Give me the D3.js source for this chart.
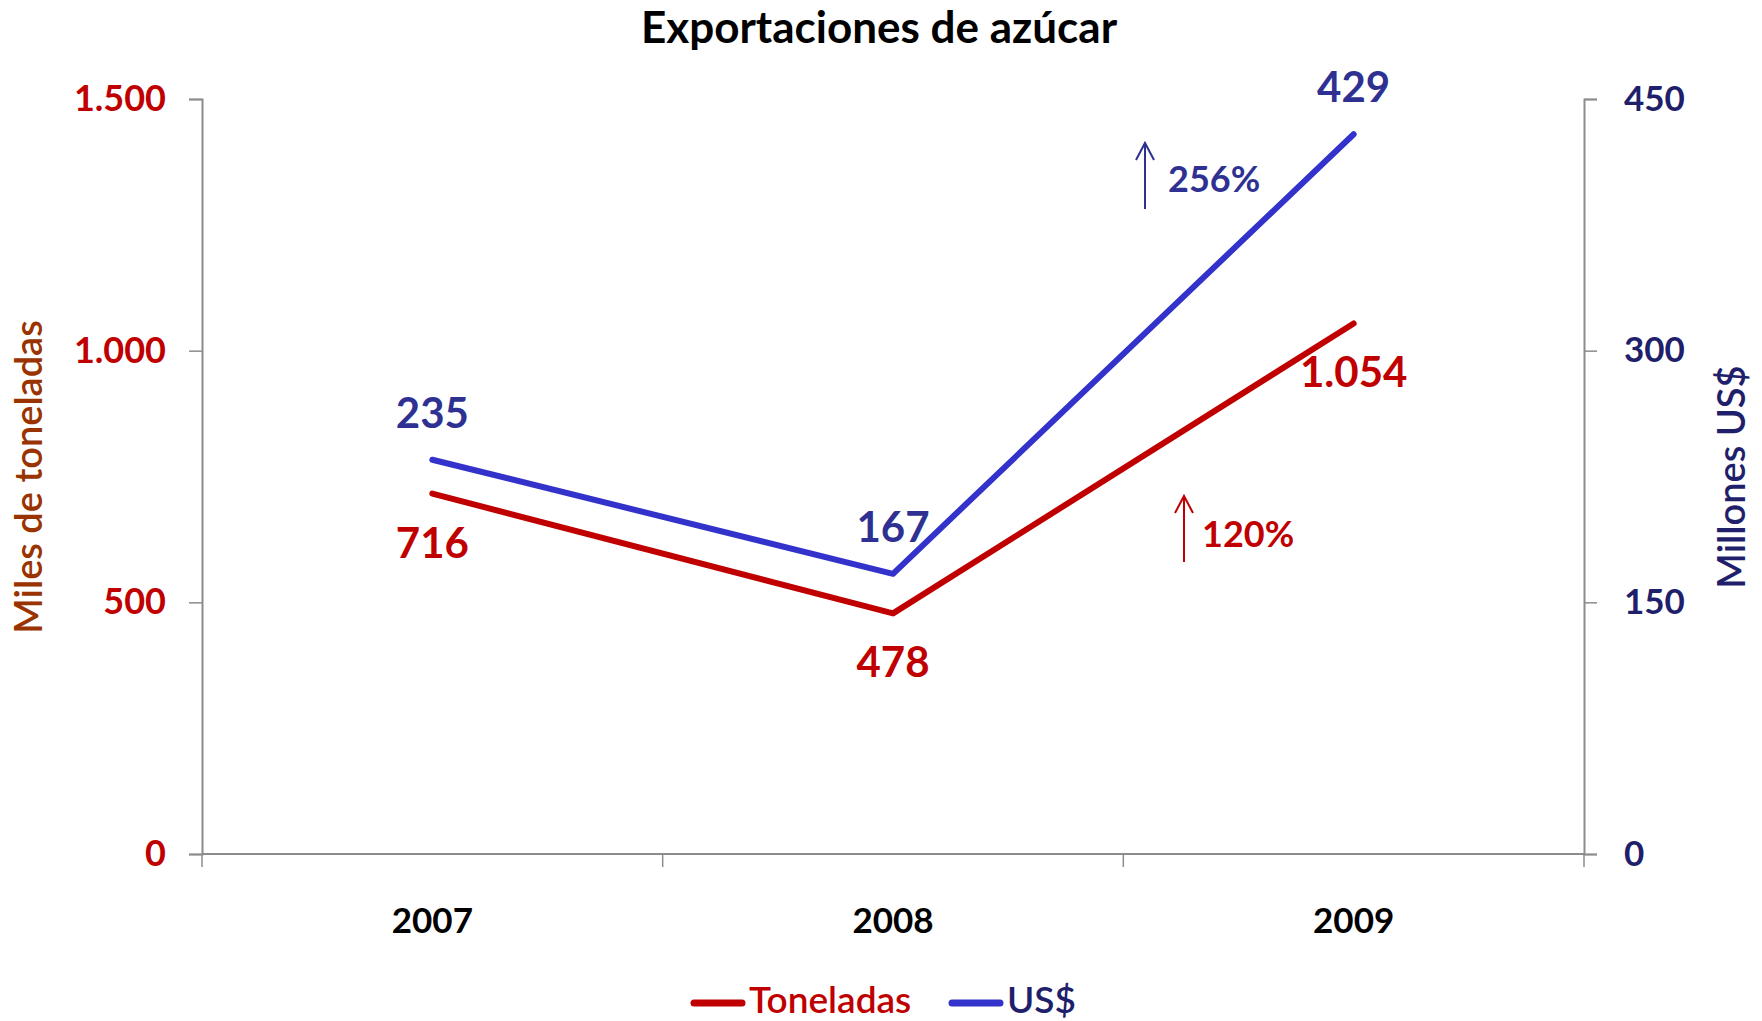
<!DOCTYPE html>
<html>
<head>
    <meta charset="utf-8">
    <title>Exportaciones de azúcar</title>
    <script src="https://d3js.org/d3.v7.min.js"></script>
    <style>
        body { margin: 0; background: #fff; }
        text { font-family: Lato, "Open Sans", sans-serif; font-weight: bold; }
    </style>
</head>
<body>
    <div id="chart"></div>
    <script>
        // data
        var years = ["2007", "2008", "2009"];
        var toneladas = [716, 478, 1054];   // miles de toneladas
        var dolares = [235, 167, 429];       // millones US$
        var leftTicks = [0, 500, 1000, 1500];
        var rightTicks = [0, 150, 300, 450];

        var red = "#C00000", blue = "#3333CC", navy = "#2E3192", darkNavy = "#1F1F6B";

        var W = 1762, H = 1021;
        var margin = {top: 99, right: 178, bottom: 167, left: 202},
            width = W - margin.left - margin.right,
            height = H - margin.top - margin.bottom;

        var svg = d3.select("#chart").append("svg")
            .attr("width", W).attr("height", H);

        svg.append("text")
            .attr("x", 879).attr("y", 43)
            .attr("text-anchor", "middle")
            .style("font-size", "44px")
            .attr("fill", "#000")
            .text("Exportaciones de azúcar");

        var g = svg.append("g")
            .attr("transform", "translate(" + margin.left + "," + margin.top + ")");

        var x = d3.scaleBand().domain(years).range([0, width]);
        var yL = d3.scaleLinear().domain([0, 1500]).range([height, 0]);
        var yR = d3.scaleLinear().domain([0, 450]).range([height, 0]);

        var fmt = function(d) { return d3.format(",")(d).replace(/,/g, "."); };

        // axes
        var axisColor = "#8c8c8c";
        var xAxis = g.append("g")
            .attr("transform", "translate(0," + height + ")")
            .call(d3.axisBottom(x).tickSize(0).tickPadding(54));
        xAxis.select(".domain").attr("stroke", axisColor).attr("stroke-width", 2).attr("d", "M0,0H" + width);
        xAxis.selectAll("text").style("font-size", "35px").attr("fill", "#000");
        // category boundary ticks
        g.selectAll(".xtick").data(years.concat(["end"]))
            .enter().append("line")
            .attr("x1", function(d, i) { return i * x.bandwidth(); })
            .attr("x2", function(d, i) { return i * x.bandwidth(); })
            .attr("y1", height).attr("y2", height + 13)
            .attr("stroke", axisColor).attr("stroke-width", 1.5);

        var leftAxis = g.append("g")
            .call(d3.axisLeft(yL).tickValues(leftTicks).tickFormat(fmt).tickSizeOuter(0).tickSize(13).tickPadding(36 - 13));
        leftAxis.select(".domain").attr("stroke", axisColor).attr("stroke-width", 2);
        leftAxis.selectAll("line").attr("stroke", axisColor).attr("stroke-width", 1.5);
        leftAxis.selectAll("text").style("font-size", "36px").attr("fill", red);

        var rightAxis = g.append("g")
            .attr("transform", "translate(" + width + ",0)")
            .call(d3.axisRight(yR).tickValues(rightTicks).tickSizeOuter(0).tickSize(13).tickPadding(40 - 13));
        rightAxis.select(".domain").attr("stroke", axisColor).attr("stroke-width", 2);
        rightAxis.selectAll("line").attr("stroke", axisColor).attr("stroke-width", 1.5);
        rightAxis.selectAll("text").style("font-size", "35px").attr("fill", darkNavy);

        // axis titles
        svg.append("text")
            .attr("transform", "translate(42,477) rotate(-90)")
            .attr("text-anchor", "middle")
            .style("font-size", "38px").style("font-weight", "600")
            .attr("fill", "#993300")
            .text("Miles de toneladas");
        svg.append("text")
            .attr("transform", "translate(1745,477) rotate(-90)")
            .attr("text-anchor", "middle")
            .style("font-size", "38px").style("font-weight", "600")
            .attr("fill", darkNavy)
            .text("Millones US$");

        var cx = function(i) { return x(years[i]) + x.bandwidth() / 2; };

        var lineL = d3.line().x(function(d, i) { return cx(i); }).y(function(d) { return yL(d); });
        var lineR = d3.line().x(function(d, i) { return cx(i); }).y(function(d) { return yR(d); });

        g.append("path").datum(toneladas).attr("d", lineL)
            .attr("fill", "none").attr("stroke", red).attr("stroke-width", 6)
            .attr("stroke-linecap", "round").attr("stroke-linejoin", "round");
        g.append("path").datum(dolares).attr("d", lineR)
            .attr("fill", "none").attr("stroke", blue).attr("stroke-width", 6)
            .attr("stroke-linecap", "round").attr("stroke-linejoin", "round");

        // data labels
        g.selectAll(".lblR").data(toneladas).enter().append("text")
            .attr("x", function(d, i) { return cx(i); })
            .attr("y", function(d) { return yL(d) + 64; })
            .attr("text-anchor", "middle")
            .style("font-size", "42px").attr("fill", red)
            .text(fmt);
        g.selectAll(".lblB").data(dolares).enter().append("text")
            .attr("x", function(d, i) { return cx(i); })
            .attr("y", function(d) { return yR(d) - 32; })
            .attr("text-anchor", "middle")
            .style("font-size", "42px").attr("fill", navy)
            .text(fmt);

        // growth annotations
        var notes = [
            {text: "256%", x: 1145, y1: 209, y2: 143, tx: 1168, ty: 192, color: navy},
            {text: "120%", x: 1184, y1: 562, y2: 496, tx: 1202, ty: 547, color: red}
        ];
        notes.forEach(function(n) {
            svg.append("line")
                .attr("x1", n.x).attr("x2", n.x).attr("y1", n.y1).attr("y2", n.y2)
                .attr("stroke", n.color).attr("stroke-width", 2);
            svg.append("path")
                .attr("d", "M" + (n.x - 9) + "," + (n.y2 + 17) + "L" + n.x + "," + n.y2 + "L" + (n.x + 9) + "," + (n.y2 + 17))
                .attr("fill", "none").attr("stroke", n.color).attr("stroke-width", 2);
            svg.append("text")
                .attr("x", n.tx).attr("y", n.ty)
                .style("font-size", "36px").attr("fill", n.color)
                .text(n.text);
        });

        // legend
        var legend = [
            {name: "Toneladas", color: red, text: red, x: 692},
            {name: "US$", color: blue, text: darkNavy, x: 950}
        ];
        legend.forEach(function(l) {
            svg.append("line")
                .attr("x1", l.x + 2).attr("x2", l.x + 50).attr("y1", 1003).attr("y2", 1003)
                .attr("stroke", l.color).attr("stroke-width", 7).attr("stroke-linecap", "round");
            svg.append("text")
                .attr("x", l.x + 57).attr("y", 1013)
                .style("font-size", "37px").style("font-weight", "600")
                .attr("fill", l.text)
                .text(l.name);
        });
    </script>
</body>
</html>
